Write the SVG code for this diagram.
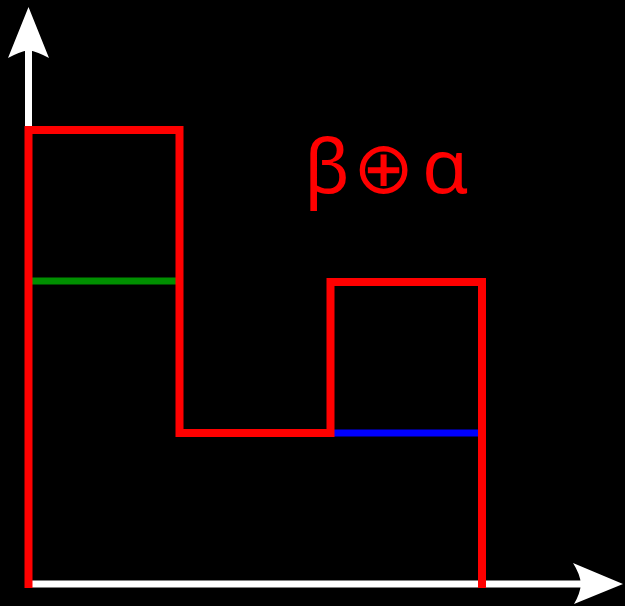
<svg xmlns="http://www.w3.org/2000/svg" width="625" height="606" viewBox="0 0 625 606">
<style>
.axis{stroke:#fff;stroke-width:7;fill:none}
.head{fill:#fff}
.red{stroke:#f00;stroke-width:8;fill:none;stroke-linejoin:miter}
.lbl{font-family:"Noto Sans","DejaVu Sans",sans-serif;font-size:75px;fill:#f00}
.op{font-family:"DejaVu Sans",sans-serif;font-size:73px}
</style>
<rect width="625" height="606" fill="#000"/>
<g id="axes">
<line class="axis" x1="28.5" y1="584" x2="28.5" y2="50"/>
<path class="head" d="M28.5 7 L49 58 Q38 52 28.5 50 Q19 52 8 58 Z"/>
<line class="axis" x1="25" y1="584" x2="582" y2="584"/>
<path class="head" d="M623 584 L573 563 Q580 574 581 584 Q580 594 574 604 Z"/>
</g>
<g id="levels">
<line x1="32" y1="281" x2="176" y2="281" stroke="#008f00" stroke-width="7"/>
<line x1="334" y1="433" x2="478" y2="433" stroke="#00f" stroke-width="7"/>
</g>
<g id="outline">
<path class="red" d="M28.5 588 V130 H179.5 V433 H330.5 V282 H482 V588"/>
</g>
<g id="label">
<text class="lbl" y="193"><tspan x="304">β</tspan><tspan class="op" x="353">⊕</tspan><tspan x="422">α</tspan></text>
</g>
</svg>
